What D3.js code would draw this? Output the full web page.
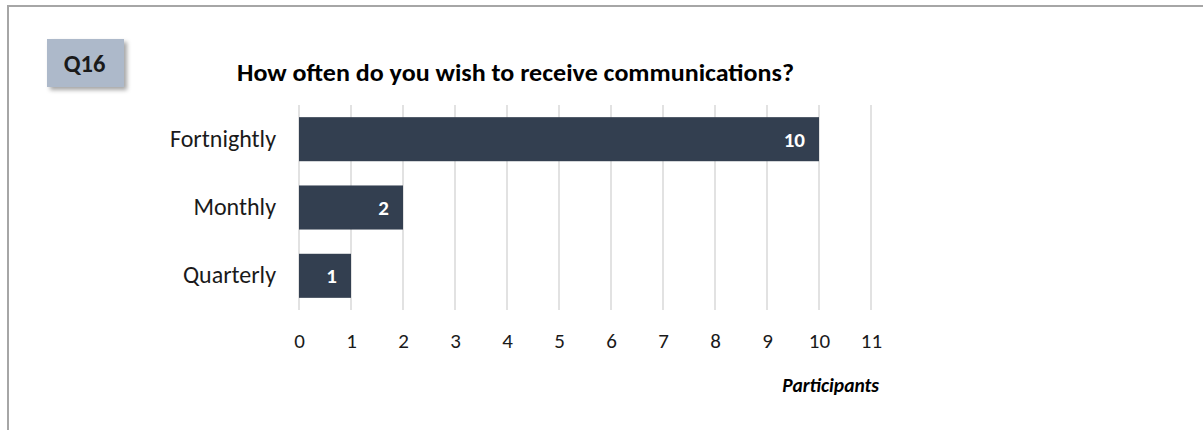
<!DOCTYPE html>
<html>
<head>
<meta charset="utf-8">
<script src="https://cdn.jsdelivr.net/npm/d3@7"></script>
<style>
  html, body { margin: 0; padding: 0; background: #fff; }
  svg { display: block; }
  svg text { font-family: Calibri, Carlito, Lato, "Open Sans", sans-serif; }
</style>
</head>
<body>
<svg id="chart" width="1203" height="430"></svg>
<script>
// Survey responses: preferred communication frequency
const categories = ["Fortnightly", "Monthly", "Quarterly"];
const participants = [10, 2, 1];
const xTicks = [0, 1, 2, 3, 4, 5, 6, 7, 8, 9, 10, 11];
const questionTag = "Q16";
const chartTitle = "How often do you wish to receive communications?";
const axisTitle = "Participants";

const svg = d3.select("#chart");

// Drop shadow for the question tag
const defs = svg.append("defs");
const f = defs.append("filter").attr("id", "tagShadow")
  .attr("x", "-20%").attr("y", "-20%").attr("width", "150%").attr("height", "160%");
f.append("feDropShadow").attr("dx", 3).attr("dy", 3).attr("stdDeviation", 2)
  .attr("flood-color", "#000").attr("flood-opacity", 0.35);

// Outer frame (continues past the right and bottom edges)
svg.append("path")
  .attr("d", "M8,1300 L8,6 L1300,6")
  .attr("fill", "none").attr("stroke", "#a6a6a6").attr("stroke-width", 2);

// Question tag
svg.append("rect")
  .attr("x", 47).attr("y", 39).attr("width", 77).attr("height", 48)
  .attr("fill", "#adb9ca").attr("filter", "url(#tagShadow)");
svg.append("text")
  .attr("x", 84.5).attr("y", 72)
  .attr("text-anchor", "middle")
  .attr("font-size", 24.5).attr("font-weight", "bold").attr("fill", "#1a1a1a")
  .text(questionTag);

// Title
svg.append("text")
  .attr("x", 237).attr("y", 81)
  .attr("font-size", 25).attr("font-weight", "bold").attr("fill", "#000")
  .attr("textLength", 557).attr("lengthAdjust", "spacingAndGlyphs")
  .text(chartTitle);

const x = d3.scaleLinear().domain([0, 11]).range([299, 871]);
const y = d3.scaleBand().domain(categories).range([105, 310]).paddingInner(0.355).paddingOuter(0.178);

// Vertical gridlines
svg.append("g").selectAll("line")
  .data(xTicks)
  .join("line")
  .attr("x1", d => x(d)).attr("x2", d => x(d))
  .attr("y1", 105).attr("y2", 310)
  .attr("stroke", "#d9d9d9").attr("stroke-width", 1.5);

// Bars
svg.append("g").selectAll("rect")
  .data(categories)
  .join("rect")
  .attr("x", x(0))
  .attr("y", d => y(d))
  .attr("width", (d, i) => x(participants[i]) - x(0))
  .attr("height", y.bandwidth())
  .attr("fill", "#333f50");

// Value labels inside bar ends
svg.append("g").selectAll("text")
  .data(categories)
  .join("text")
  .attr("x", (d, i) => x(participants[i]) - 14)
  .attr("y", d => y(d) + y.bandwidth() / 2)
  .attr("dy", "0.36em")
  .attr("text-anchor", "end")
  .attr("font-size", 21).attr("font-weight", "bold").attr("fill", "#fff")
  .text((d, i) => participants[i]);

// Category axis labels
const yAxis = d3.axisLeft(y).tickSize(0).tickPadding(23);
const gy = svg.append("g").attr("transform", `translate(${x(0)},0)`).call(yAxis)
  .attr("font-family", null).attr("font-size", null);
gy.select(".domain").remove();
gy.selectAll("text")
  .attr("font-size", 24).attr("fill", "#1a1a1a");

// Value axis tick labels
const xAxis = d3.axisBottom(x).tickValues(xTicks).tickSize(0).tickPadding(0).tickFormat(d3.format("d"));
const gx = svg.append("g").attr("transform", "translate(0,333)").call(xAxis)
  .attr("font-family", null).attr("font-size", null);
gx.select(".domain").remove();
gx.selectAll("text")
  .attr("font-size", 21).attr("fill", "#1a1a1a");

// Axis title
svg.append("text")
  .attr("x", 879).attr("y", 392)
  .attr("text-anchor", "end")
  .attr("font-size", 19.5).attr("font-weight", "bold").attr("font-style", "italic").attr("fill", "#000")
  .text(axisTitle);
</script>
</body>
</html>
